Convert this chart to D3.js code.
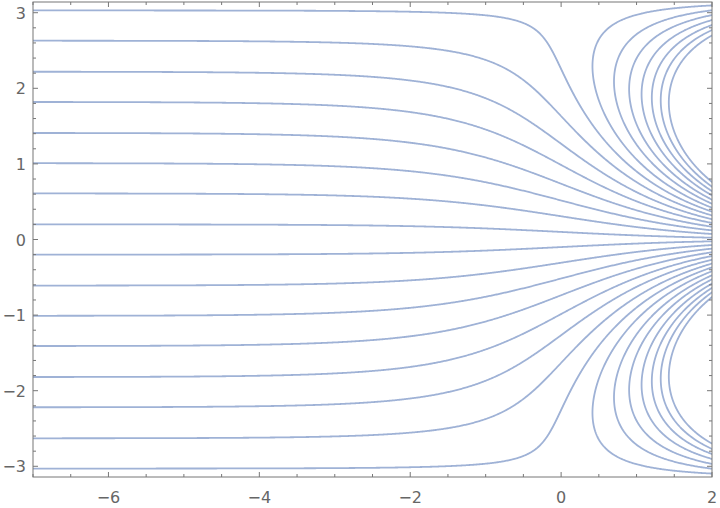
<!DOCTYPE html>
<html>
<head>
<meta charset="utf-8">
<script src="https://cdn.jsdelivr.net/npm/d3@7"></script>
<style>
  body { margin: 0; background: #fff; }
  text { font-family: "DejaVu Sans", sans-serif; fill: #666; }
</style>
</head>
<body>
<div class="svg-container"></div>
<script>
// contour levels of Im(z + e^z)
const levels = [-5.86, -5.45, -5.05, -4.65, -4.24, -3.84, -3.43, -3.03, -2.63, -2.22, -1.82, -1.41, -1.01, -0.61, -0.2,
                0.2, 0.61, 1.01, 1.41, 1.82, 2.22, 2.63, 3.03, 3.43, 3.84, 4.24, 4.65, 5.05, 5.45, 5.86];
const xDomain = [-7, 2];
const yDomain = [-Math.PI, Math.PI];
const xTickLabels = [-6, -4, -2, 0, 2];
const yTickLabels = [-3, -2, -1, 0, 1, 2, 3];

const f = (x, y) => y + Math.exp(x) * Math.sin(y);

const width = 720;
const height = 508;
const margin = { top: 2, right: 8, bottom: 31, left: 33 };
const x0 = margin.left, x1 = width - margin.right;
const y0 = margin.top, y1 = height - margin.bottom;

const x = d3.scaleLinear().domain(xDomain).range([x0, x1]);
const y = d3.scaleLinear().domain(yDomain).range([y1, y0]);

const svg = d3.select('.svg-container')
  .append('svg')
  .attr('width', width)
  .attr('height', height);

svg.append('clipPath').attr('id', 'plotclip')
  .append('rect')
  .attr('x', x0).attr('y', y0)
  .attr('width', x1 - x0).attr('height', y1 - y0);

// sample the field on a pixel grid slightly larger than the frame
const pad = 4;
const gx0 = x0 - pad, gy0 = y0 - pad;
const nx = Math.ceil(x1 - x0) + 2 * pad;
const ny = Math.ceil(y1 - y0) + 2 * pad;
const values = new Float64Array(nx * ny);
for (let j = 0; j < ny; j++) {
  const yy = y.invert(gy0 + j + 0.5);
  for (let i = 0; i < nx; i++) {
    values[j * nx + i] = f(x.invert(gx0 + i + 0.5), yy);
  }
}

const contours = d3.contours().size([nx, ny]).thresholds(levels)(values);

svg.append('g')
  .attr('clip-path', 'url(#plotclip)')
  .append('g')
  .attr('transform', `translate(${gx0},${gy0})`)
  .selectAll('path')
  .data(contours)
  .enter()
  .append('path')
  .attr('d', d3.geoPath())
  .attr('fill', 'none')
  .attr('stroke', '#9fb2d6')
  .attr('stroke-width', 1.8)
  .attr('stroke-linejoin', 'round');

// frame
const frameColor = '#777';
svg.append('rect')
  .attr('x', x0).attr('y', y0)
  .attr('width', x1 - x0).attr('height', y1 - y0)
  .attr('fill', 'none')
  .attr('stroke', frameColor)
  .attr('stroke-width', 1);

const ticks = svg.append('g').attr('stroke', frameColor).attr('stroke-width', 1);
const xMinor = d3.range(-7, 2.01, 0.5);
const yMinor = d3.range(-3, 3.01, 0.2).map(v => Math.round(v * 10) / 10);

xMinor.forEach(v => {
  const len = xTickLabels.includes(v) ? 5 : 3;
  ticks.append('line').attr('x1', x(v)).attr('x2', x(v)).attr('y1', y1).attr('y2', y1 - len);
  ticks.append('line').attr('x1', x(v)).attr('x2', x(v)).attr('y1', y0).attr('y2', y0 + len);
});
yMinor.forEach(v => {
  const len = yTickLabels.includes(v) ? 5 : 3;
  ticks.append('line').attr('y1', y(v)).attr('y2', y(v)).attr('x1', x0).attr('x2', x0 + len);
  ticks.append('line').attr('y1', y(v)).attr('y2', y(v)).attr('x1', x1).attr('x2', x1 - len);
});

const fmt = v => v < 0 ? '\u2212' + Math.abs(v) : String(v);

svg.append('g').selectAll('text')
  .data(xTickLabels)
  .enter()
  .append('text')
  .attr('x', d => x(d))
  .attr('y', y1 + 26)
  .attr('text-anchor', 'middle')
  .attr('font-size', 16)
  .text(fmt);

svg.append('g').selectAll('text')
  .data(yTickLabels)
  .enter()
  .append('text')
  .attr('x', x0 - 7)
  .attr('y', d => y(d) + 6)
  .attr('text-anchor', 'end')
  .attr('font-size', 16)
  .text(fmt);
</script>
</body>
</html>
